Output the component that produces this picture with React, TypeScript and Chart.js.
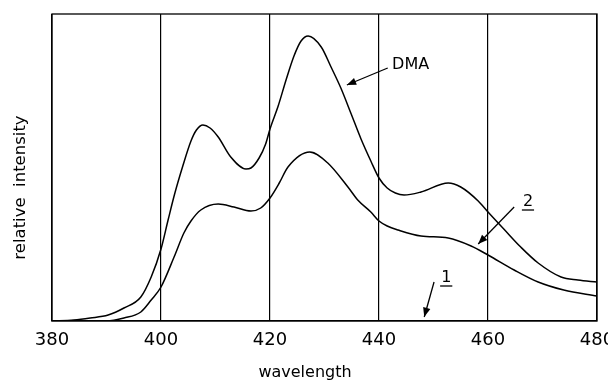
import React, { useEffect, useRef } from "react";
import { Chart, registerables } from "chart.js";

Chart.register(...registerables);

const xTicks = [380, 400, 420, 440, 460, 480];

const dmaWavelength = [380, 384, 387, 390.3, 393.2, 396.3, 398.2, 400, 401.3, 402.5, 404, 405.5, 406.5, 407.7, 409, 410.5, 412.8, 415.6, 416.5, 418, 419.2, 420, 421.5, 423, 424.4, 425.7, 427, 429.4, 431.2, 433, 434.9, 436.7, 438.5, 440, 441.5, 443, 444.6, 447.7, 452.7, 455, 458.2, 460, 462.9, 466, 469.2, 473.4, 476.5, 480];
const dmaIntensity = [0, 1, 3, 6, 13, 24, 44, 72, 101, 127, 155, 180, 191, 196, 193, 184, 164, 152, 153, 163, 177, 192, 215, 242, 265, 280, 285, 274, 254, 233, 207, 182, 160, 143, 133, 128, 126, 129, 138, 134, 120, 109, 92, 74, 58, 44, 41, 39];

const lowWavelength = [380, 390, 393.2, 396.3, 398.2, 400, 402.4, 404.2, 405.5, 407.3, 410.5, 413.4, 416.5, 418.3, 420, 421.7, 423.3, 427.3, 430.6, 434.3, 436.1, 438.5, 440, 441.5, 443.5, 447.7, 452.7, 456.9, 460, 464.8, 469.2, 473.9, 480];
const lowIntensity = [0, 0, 3, 9, 21, 34, 64, 88, 100, 111, 117, 114, 110, 113, 123, 138, 154, 169, 158, 134, 121, 109, 100, 95, 91, 85, 83, 75, 66, 51, 39, 31, 25];

const labelTexts = ["DMA", "2", "1"];
const labelX = [442.4, 466.4, 451.4];
const labelY = [256, 119, 43];
const arrowFromX = [441.6, 464.8, 450.1];
const arrowFromY = [253, 114, 39];
const arrowToX = [434.1, 458.2, 448.3];
const arrowToY = [236, 77, 4];

const xTitle = "wavelength";
const yTitle = "relative  intensity";

const annotationPlugin = {
  id: "annotations",
  afterDraw(chart: any) {
    const ctx = chart.ctx as CanvasRenderingContext2D;
    const xs = chart.scales.x;
    const ys = chart.scales.y;
    const a = chart.chartArea;
    ctx.save();
    ctx.strokeStyle = "#000";
    ctx.lineWidth = 1.3;
    ctx.strokeRect(a.left, a.top, a.right - a.left, a.bottom - a.top);
    ctx.fillStyle = "#000";
    ctx.font = "16px 'DejaVu Sans'";
    ctx.textBaseline = "middle";
    ctx.textAlign = "left";
    labelTexts.forEach((t, i) => {
      const px = xs.getPixelForValue(labelX[i]);
      const py = ys.getPixelForValue(labelY[i]);
      ctx.fillText(t, px, py);
      if (t !== "DMA") {
        const w = ctx.measureText(t).width;
        ctx.beginPath();
        ctx.moveTo(px - 1, py + 8);
        ctx.lineTo(px + w + 1, py + 8);
        ctx.stroke();
      }
      const x1 = xs.getPixelForValue(arrowFromX[i]);
      const y1 = ys.getPixelForValue(arrowFromY[i]);
      const x2 = xs.getPixelForValue(arrowToX[i]);
      const y2 = ys.getPixelForValue(arrowToY[i]);
      ctx.beginPath();
      ctx.moveTo(x1, y1);
      ctx.lineTo(x2, y2);
      ctx.stroke();
      const ang = Math.atan2(y2 - y1, x2 - x1);
      const len = 10;
      const spread = 0.38;
      ctx.beginPath();
      ctx.moveTo(x2, y2);
      ctx.lineTo(x2 - len * Math.cos(ang - spread), y2 - len * Math.sin(ang - spread));
      ctx.lineTo(x2 - len * Math.cos(ang + spread), y2 - len * Math.sin(ang + spread));
      ctx.closePath();
      ctx.fill();
    });
    // axis titles
    ctx.textAlign = "center";
    ctx.font = "16px 'DejaVu Sans'";
    ctx.fillText(xTitle, a.left + 253, a.bottom + 52);
    ctx.save();
    ctx.translate(13, (a.top + a.bottom) / 2 + 20);
    ctx.rotate(-Math.PI / 2);
    ctx.font = "16.5px 'DejaVu Sans'";
    ctx.fillText(yTitle, 0, 0);
    ctx.restore();
    ctx.restore();
  },
};

export default function App() {
  const ref = useRef<HTMLCanvasElement | null>(null);
  useEffect(() => {
    if (!ref.current) return;
    const toPts = (xsArr: number[], ysArr: number[]) => xsArr.map((x, i) => ({ x, y: ysArr[i] }));
    const lineStyle = {
      borderColor: "#000",
      borderWidth: 1.5,
      pointRadius: 0,
      cubicInterpolationMode: "monotone" as const,
      fill: false,
    };
    const chart = new Chart(ref.current, {
      type: "line",
      data: {
        datasets: [
          { label: "DMA", data: toPts(dmaWavelength, dmaIntensity), ...lineStyle },
          { label: "1, 2", data: toPts(lowWavelength, lowIntensity), ...lineStyle },
        ],
      },
      options: {
        animation: false,
        responsive: false,
        maintainAspectRatio: false,
        layout: { padding: { left: 44, right: 19, top: 6, bottom: 21.4 } },
        plugins: { legend: { display: false }, tooltip: { enabled: false } },
        scales: {
          x: {
            type: "linear",
            min: 380,
            max: 480,
            afterBuildTicks: (axis: any) => {
              axis.ticks = xTicks.map((v) => ({ value: v }));
            },
            afterFit: (axis: any) => {
              axis.paddingLeft = 0;
              axis.paddingRight = 0;
            },
            grid: { color: "#000", lineWidth: 1.2, drawTicks: false },
            border: { display: true, color: "#000", width: 1.3 },
            ticks: {
              color: "#000",
              padding: 9,
              font: { family: "DejaVu Sans", size: 18 },
              maxRotation: 0,
            },
          },
          y: {
            display: false,
            min: 0,
            max: 307,
          },
        },
      },
      plugins: [annotationPlugin],
    });
    return () => chart.destroy();
  }, []);
  return (
    <div style={{ width: 608, height: 374 }}>
      <canvas ref={ref} width={608} height={374} style={{ display: "block" }} />
    </div>
  );
}
